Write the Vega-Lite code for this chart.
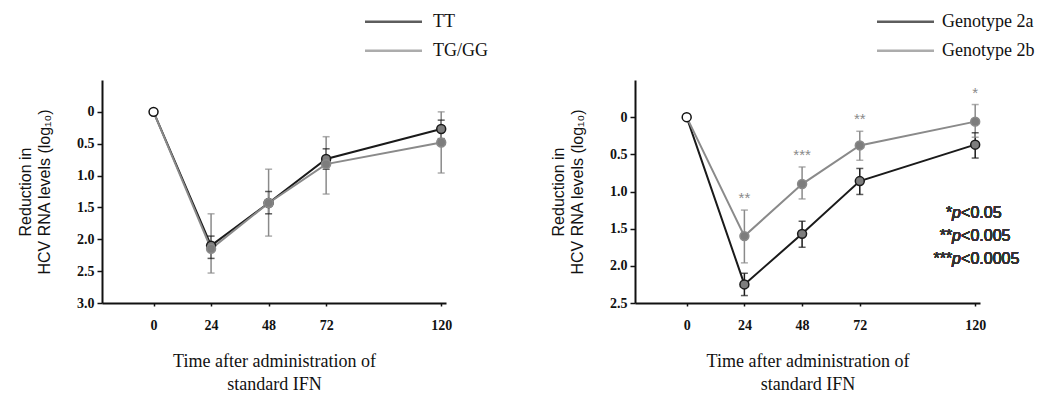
{
  "$schema": "https://vega.github.io/schema/vega-lite/v6.json",
  "padding": {"left": 17, "top": 6, "right": 0, "bottom": 0},
  "bounds": "flush",
  "spacing": 189,
  "config": {
    "font": "Liberation Serif",
    "view": {"stroke": null},
    "axis": {
      "grid": false,
      "domainColor": "#111",
      "domainWidth": 2,
      "tickColor": "#111",
      "tickWidth": 1.5,
      "labelColor": "#111",
      "titleColor": "#111",
      "titleFontWeight": "normal",
      "labelOverlap": false
    },
    "legend": {
      "orient": "none",
      "title": null,
      "direction": "vertical",
      "symbolType": "M-2,0H2",
      "symbolSize": 812,
      "symbolStrokeWidth": 2.5,
      "labelFont": "Liberation Serif",
      "labelFontSize": 18,
      "labelColor": "#111",
      "labelOffset": 24,
      "rowPadding": 4
    }
  },
  "datasets": {
    "left": [
      {"group": "TT", "t": 0, "mean": 0, "lo": null, "hi": null},
      {"group": "TT", "t": 24, "mean": 2.10, "lo": 1.95, "hi": 2.30},
      {"group": "TT", "t": 48, "mean": 1.43, "lo": 1.25, "hi": 1.60},
      {"group": "TT", "t": 72, "mean": 0.74, "lo": 0.58, "hi": 0.90},
      {"group": "TT", "t": 120, "mean": 0.27, "lo": 0.13, "hi": 0.42},
      {"group": "TG/GG", "t": 0, "mean": 0, "lo": null, "hi": null},
      {"group": "TG/GG", "t": 24, "mean": 2.15, "lo": 1.60, "hi": 2.53},
      {"group": "TG/GG", "t": 48, "mean": 1.43, "lo": 0.90, "hi": 1.95},
      {"group": "TG/GG", "t": 72, "mean": 0.82, "lo": 0.39, "hi": 1.29},
      {"group": "TG/GG", "t": 120, "mean": 0.48, "lo": 0.00, "hi": 0.96}
    ],
    "right": [
      {"group": "Genotype 2a", "t": 0, "mean": 0, "lo": null, "hi": null, "sig": null},
      {"group": "Genotype 2a", "t": 24, "mean": 2.25, "lo": 2.10, "hi": 2.40, "sig": null},
      {"group": "Genotype 2a", "t": 48, "mean": 1.57, "lo": 1.40, "hi": 1.75, "sig": null},
      {"group": "Genotype 2a", "t": 72, "mean": 0.86, "lo": 0.69, "hi": 1.04, "sig": null},
      {"group": "Genotype 2a", "t": 120, "mean": 0.37, "lo": 0.21, "hi": 0.55, "sig": null},
      {"group": "Genotype 2b", "t": 0, "mean": 0, "lo": null, "hi": null, "sig": null},
      {"group": "Genotype 2b", "t": 24, "mean": 1.60, "lo": 1.25, "hi": 1.96, "sig": "**"},
      {"group": "Genotype 2b", "t": 48, "mean": 0.90, "lo": 0.67, "hi": 1.10, "sig": "***"},
      {"group": "Genotype 2b", "t": 72, "mean": 0.38, "lo": 0.19, "hi": 0.58, "sig": "**"},
      {"group": "Genotype 2b", "t": 120, "mean": 0.06, "lo": -0.17, "hi": 0.27, "sig": "*"}
    ]
  },
  "hconcat": [
    {
      "width": 344,
      "height": 223,
      "data": {"name": "left"},
      "encoding": {
        "x": {
          "field": "t", "type": "quantitative",
          "scale": {"domain": [-21.5, 122], "nice": false, "zero": false},
          "axis": {"values": [0, 24, 48, 72, 120], "tickSize": 3, "labelPadding": 12, "labelFlush": false,
                   "labelFontSize": 14, "labelFont": "Liberation Serif", "labelFontWeight": "bold",
                   "title": ["Time after administration of", "standard IFN"], "titleFont": "Liberation Serif", "titleFontSize": 18,
                   "titlePadding": 20, "titleLineHeight": 23}
        }
      },
      "layer": [
        {
          "transform": [{"filter": "datum.t > 0"}],
          "mark": {"type": "rule", "strokeWidth": 1.5},
          "encoding": {
            "y": {"field": "lo", "type": "quantitative",
                  "scale": {"domain": [-0.5, 3.0], "reverse": true, "nice": false, "zero": false},
                  "axis": {"values": [0, 0.5, 1, 1.5, 2, 2.5, 3], "tickSize": 5, "labelPadding": 3, "labelOverlap": false, "labelSeparation": 0, "labelBound": false, "labelFlush": false,
                           "labelFontSize": 14, "labelFont": "Liberation Serif", "labelFontWeight": "bold",
                           "labelExpr": "datum.value == 0 ? '0' : format(datum.value, '.1f')",
                           "title": ["Reduction in", "HCV RNA levels (log₁₀)"], "titleFont": "Liberation Sans", "titleFontSize": 16,
                           "titlePadding": 24, "titleLineHeight": 19}},
            "y2": {"field": "hi"},
            "color": {"field": "group", "type": "nominal", "scale": {"domain": ["TT", "TG/GG"], "range": ["#1a1a1a", "#8a8a8a"]}}
          }
        },
        {
          "transform": [{"filter": "datum.t > 0"}, {"fold": ["lo", "hi"], "as": ["end", "v"]}],
          "mark": {"type": "tick", "orient": "horizontal", "size": 7, "thickness": 1.5},
          "encoding": {
            "y": {"field": "v", "type": "quantitative",
                  "scale": {"domain": [-0.5, 3.0], "reverse": true, "nice": false, "zero": false},
                  "axis": {"values": [0, 0.5, 1, 1.5, 2, 2.5, 3], "tickSize": 5, "labelPadding": 3, "labelOverlap": false, "labelSeparation": 0, "labelBound": false, "labelFlush": false,
                           "labelFontSize": 14, "labelFont": "Liberation Serif", "labelFontWeight": "bold",
                           "labelExpr": "datum.value == 0 ? '0' : format(datum.value, '.1f')",
                           "title": ["Reduction in", "HCV RNA levels (log₁₀)"], "titleFont": "Liberation Sans", "titleFontSize": 16,
                           "titlePadding": 24, "titleLineHeight": 19}},
            "color": {"field": "group", "type": "nominal", "scale": {"domain": ["TT", "TG/GG"], "range": ["#1a1a1a", "#8a8a8a"]}}
          }
        },
        {
          "mark": {"type": "line", "strokeWidth": 2},
          "encoding": {
            "y": {"field": "mean", "type": "quantitative",
                  "scale": {"domain": [-0.5, 3.0], "reverse": true, "nice": false, "zero": false},
                  "axis": {"values": [0, 0.5, 1, 1.5, 2, 2.5, 3], "tickSize": 5, "labelPadding": 3, "labelOverlap": false, "labelSeparation": 0, "labelBound": false, "labelFlush": false,
                           "labelFontSize": 14, "labelFont": "Liberation Serif", "labelFontWeight": "bold",
                           "labelExpr": "datum.value == 0 ? '0' : format(datum.value, '.1f')",
                           "title": ["Reduction in", "HCV RNA levels (log₁₀)"], "titleFont": "Liberation Sans", "titleFontSize": 16,
                           "titlePadding": 24, "titleLineHeight": 19}},
            "order": {"field": "t"},
            "color": {"field": "group", "type": "nominal", "scale": {"domain": ["TT", "TG/GG"], "range": ["#1a1a1a", "#8a8a8a"]},
                      "legend": {"orient": "none", "legendX": 276, "legendY": -73.8, "title": null, "symbolType": "M-2,0H2", "symbolSize": 812, "rowPadding": 4, "labelOffset": 24}}
          }
        },
        {
          "transform": [{"filter": "datum.t > 0"}],
          "mark": {"type": "point", "shape": "circle", "size": 80, "filled": false, "fill": "#7d7d7d", "fillOpacity": 1, "strokeWidth": 1.5, "opacity": 1},
          "encoding": {
            "y": {"field": "mean", "type": "quantitative",
                  "scale": {"domain": [-0.5, 3.0], "reverse": true, "nice": false, "zero": false},
                  "axis": {"values": [0, 0.5, 1, 1.5, 2, 2.5, 3], "tickSize": 5, "labelPadding": 3, "labelOverlap": false, "labelSeparation": 0, "labelBound": false, "labelFlush": false,
                           "labelFontSize": 14, "labelFont": "Liberation Serif", "labelFontWeight": "bold",
                           "labelExpr": "datum.value == 0 ? '0' : format(datum.value, '.1f')",
                           "title": ["Reduction in", "HCV RNA levels (log₁₀)"], "titleFont": "Liberation Sans", "titleFontSize": 16,
                           "titlePadding": 24, "titleLineHeight": 19}},
            "color": {"field": "group", "type": "nominal", "scale": {"domain": ["TT", "TG/GG"], "range": ["#1a1a1a", "#8a8a8a"]}}
          }
        },
        {
          "transform": [{"filter": "datum.t == 0 && datum.group == 'TT'"}],
          "mark": {"type": "point", "shape": "circle", "size": 80, "filled": true, "fill": "white", "fillOpacity": 1, "stroke": "#111", "strokeWidth": 1.5, "opacity": 1},
          "encoding": {
            "y": {"field": "mean", "type": "quantitative",
                  "scale": {"domain": [-0.5, 3.0], "reverse": true, "nice": false, "zero": false},
                  "axis": {"values": [0, 0.5, 1, 1.5, 2, 2.5, 3], "tickSize": 5, "labelPadding": 3, "labelOverlap": false, "labelSeparation": 0, "labelBound": false, "labelFlush": false,
                           "labelFontSize": 14, "labelFont": "Liberation Serif", "labelFontWeight": "bold",
                           "labelExpr": "datum.value == 0 ? '0' : format(datum.value, '.1f')",
                           "title": ["Reduction in", "HCV RNA levels (log₁₀)"], "titleFont": "Liberation Sans", "titleFontSize": 16,
                           "titlePadding": 24, "titleLineHeight": 19}}
          }
        }
      ]
    },
    {
      "width": 345,
      "height": 223,
      "data": {"name": "right"},
      "encoding": {
        "x": {
          "field": "t", "type": "quantitative",
          "scale": {"domain": [-21.5, 122], "nice": false, "zero": false},
          "axis": {"values": [0, 24, 48, 72, 120], "tickSize": 3, "labelPadding": 12, "labelFlush": false,
                   "labelFontSize": 14, "labelFont": "Liberation Serif", "labelFontWeight": "bold",
                   "title": ["Time after administration of", "standard IFN"], "titleFont": "Liberation Serif", "titleFontSize": 18,
                   "titlePadding": 20, "titleLineHeight": 23}
        }
      },
      "layer": [
        {
          "transform": [{"filter": "datum.t > 0"}],
          "mark": {"type": "rule", "strokeWidth": 1.5},
          "encoding": {
            "y": {"field": "lo", "type": "quantitative",
                  "scale": {"domain": [-0.5, 2.5], "reverse": true, "nice": false, "zero": false},
                  "axis": {"values": [0, 0.5, 1, 1.5, 2, 2.5], "tickSize": 5, "labelPadding": 3, "labelOverlap": false, "labelSeparation": 0, "labelBound": false, "labelFlush": false,
                           "labelFontSize": 14, "labelFont": "Liberation Serif", "labelFontWeight": "bold",
                           "labelExpr": "datum.value == 0 ? '0' : format(datum.value, '.1f')",
                           "title": ["Reduction in", "HCV RNA levels (log₁₀)"], "titleFont": "Liberation Sans", "titleFontSize": 16,
                           "titlePadding": 24, "titleLineHeight": 19}},
            "y2": {"field": "hi"},
            "color": {"field": "group", "type": "nominal", "scale": {"domain": ["Genotype 2a", "Genotype 2b"], "range": ["#1a1a1a", "#8a8a8a"]}}
          }
        },
        {
          "transform": [{"filter": "datum.t > 0"}, {"fold": ["lo", "hi"], "as": ["end", "v"]}],
          "mark": {"type": "tick", "orient": "horizontal", "size": 7, "thickness": 1.5},
          "encoding": {
            "y": {"field": "v", "type": "quantitative",
                  "scale": {"domain": [-0.5, 2.5], "reverse": true, "nice": false, "zero": false},
                  "axis": {"values": [0, 0.5, 1, 1.5, 2, 2.5], "tickSize": 5, "labelPadding": 3, "labelOverlap": false, "labelSeparation": 0, "labelBound": false, "labelFlush": false,
                           "labelFontSize": 14, "labelFont": "Liberation Serif", "labelFontWeight": "bold",
                           "labelExpr": "datum.value == 0 ? '0' : format(datum.value, '.1f')",
                           "title": ["Reduction in", "HCV RNA levels (log₁₀)"], "titleFont": "Liberation Sans", "titleFontSize": 16,
                           "titlePadding": 24, "titleLineHeight": 19}},
            "color": {"field": "group", "type": "nominal", "scale": {"domain": ["Genotype 2a", "Genotype 2b"], "range": ["#1a1a1a", "#8a8a8a"]}}
          }
        },
        {
          "mark": {"type": "line", "strokeWidth": 2},
          "encoding": {
            "y": {"field": "mean", "type": "quantitative",
                  "scale": {"domain": [-0.5, 2.5], "reverse": true, "nice": false, "zero": false},
                  "axis": {"values": [0, 0.5, 1, 1.5, 2, 2.5], "tickSize": 5, "labelPadding": 3, "labelOverlap": false, "labelSeparation": 0, "labelBound": false, "labelFlush": false,
                           "labelFontSize": 14, "labelFont": "Liberation Serif", "labelFontWeight": "bold",
                           "labelExpr": "datum.value == 0 ? '0' : format(datum.value, '.1f')",
                           "title": ["Reduction in", "HCV RNA levels (log₁₀)"], "titleFont": "Liberation Sans", "titleFontSize": 16,
                           "titlePadding": 24, "titleLineHeight": 19}},
            "order": {"field": "t"},
            "color": {"field": "group", "type": "nominal", "scale": {"domain": ["Genotype 2a", "Genotype 2b"], "range": ["#1a1a1a", "#8a8a8a"]},
                      "legend": {"orient": "none", "legendX": 255, "legendY": -73.8, "title": null, "symbolType": "M-2,0H2", "symbolSize": 812, "rowPadding": 4, "labelOffset": 21}}
          }
        },
        {
          "transform": [{"filter": "datum.t > 0"}],
          "mark": {"type": "point", "shape": "circle", "size": 80, "filled": false, "fill": "#7d7d7d", "fillOpacity": 1, "strokeWidth": 1.5, "opacity": 1},
          "encoding": {
            "y": {"field": "mean", "type": "quantitative",
                  "scale": {"domain": [-0.5, 2.5], "reverse": true, "nice": false, "zero": false},
                  "axis": {"values": [0, 0.5, 1, 1.5, 2, 2.5], "tickSize": 5, "labelPadding": 3, "labelOverlap": false, "labelSeparation": 0, "labelBound": false, "labelFlush": false,
                           "labelFontSize": 14, "labelFont": "Liberation Serif", "labelFontWeight": "bold",
                           "labelExpr": "datum.value == 0 ? '0' : format(datum.value, '.1f')",
                           "title": ["Reduction in", "HCV RNA levels (log₁₀)"], "titleFont": "Liberation Sans", "titleFontSize": 16,
                           "titlePadding": 24, "titleLineHeight": 19}},
            "color": {"field": "group", "type": "nominal", "scale": {"domain": ["Genotype 2a", "Genotype 2b"], "range": ["#1a1a1a", "#8a8a8a"]}}
          }
        },
        {
          "transform": [{"filter": "datum.t == 0 && datum.group == 'Genotype 2a'"}],
          "mark": {"type": "point", "shape": "circle", "size": 80, "filled": true, "fill": "white", "fillOpacity": 1, "stroke": "#111", "strokeWidth": 1.5, "opacity": 1},
          "encoding": {"y": {"field": "mean", "type": "quantitative"}}
        },
        {
          "transform": [{"filter": "datum.sig != null"}],
          "mark": {"type": "text", "font": "Liberation Sans", "fontSize": 15, "color": "#8a8a8a", "baseline": "middle", "dy": -12},
          "encoding": {
            "y": {"field": "lo", "type": "quantitative"},
            "text": {"field": "sig"}
          }
        },
        {"mark": {"type": "text", "text": "*", "font": "Liberation Sans", "fontSize": 16, "color": "#333", "align": "right", "baseline": "middle"},
         "encoding": {"x": {"datum": 110.4}, "y": {"datum": 1.29}}},
        {"mark": {"type": "text", "text": "**", "font": "Liberation Sans", "fontSize": 16, "color": "#333", "align": "right", "baseline": "middle"},
         "encoding": {"x": {"datum": 110.4}, "y": {"datum": 1.6}}},
        {"mark": {"type": "text", "text": "***", "font": "Liberation Sans", "fontSize": 16, "color": "#333", "align": "right", "baseline": "middle"},
         "encoding": {"x": {"datum": 110.4}, "y": {"datum": 1.91}}},
        {"mark": {"type": "text", "text": "p", "font": "Liberation Sans", "fontStyle": "italic", "fontSize": 16, "color": "#333", "align": "left", "baseline": "middle"},
         "encoding": {"x": {"datum": 110.4}, "y": {"datum": 1.29}}},
        {"mark": {"type": "text", "text": "p", "font": "Liberation Sans", "fontStyle": "italic", "fontSize": 16, "color": "#333", "align": "left", "baseline": "middle"},
         "encoding": {"x": {"datum": 110.4}, "y": {"datum": 1.6}}},
        {"mark": {"type": "text", "text": "p", "font": "Liberation Sans", "fontStyle": "italic", "fontSize": 16, "color": "#333", "align": "left", "baseline": "middle"},
         "encoding": {"x": {"datum": 110.4}, "y": {"datum": 1.91}}},
        {"mark": {"type": "text", "text": "<0.05", "font": "Liberation Sans", "fontSize": 16, "color": "#333", "align": "left", "baseline": "middle", "dx": 9},
         "encoding": {"x": {"datum": 110.4}, "y": {"datum": 1.29}}},
        {"mark": {"type": "text", "text": "<0.005", "font": "Liberation Sans", "fontSize": 16, "color": "#333", "align": "left", "baseline": "middle", "dx": 9},
         "encoding": {"x": {"datum": 110.4}, "y": {"datum": 1.6}}},
        {"mark": {"type": "text", "text": "<0.0005", "font": "Liberation Sans", "fontSize": 16, "color": "#333", "align": "left", "baseline": "middle", "dx": 9},
         "encoding": {"x": {"datum": 110.4}, "y": {"datum": 1.91}}}
      ]
    }
  ],
  "resolve": {
    "scale": {"x": "independent", "y": "independent", "color": "independent"},
    "legend": {"color": "independent"}
  }
}
